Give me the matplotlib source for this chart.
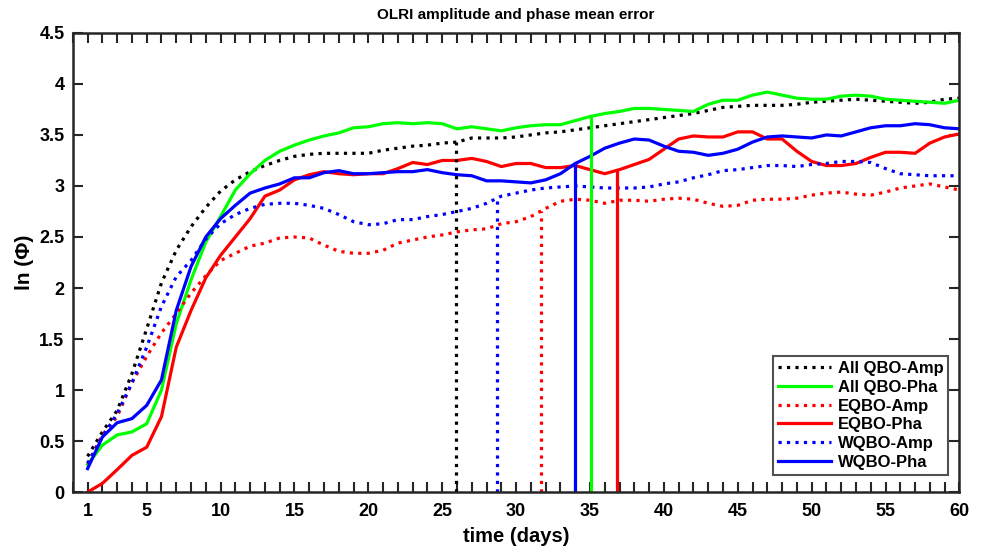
import numpy as np
import matplotlib
matplotlib.use("Agg")
import matplotlib.pyplot as plt
from matplotlib.ticker import MultipleLocator

plt.rcParams["font.family"] = ["Liberation Sans", "DejaVu Sans"]
plt.rcParams["font.weight"] = "bold"

# ---------- data ----------
days = np.arange(1, 61)

all_amp = [0.35, 0.59, 0.80, 1.16, 1.60, 2.05, 2.37, 2.60, 2.79, 2.95,
           3.06, 3.14, 3.20, 3.25, 3.29, 3.31, 3.32, 3.32, 3.32, 3.32,
           3.35, 3.37, 3.39, 3.40, 3.42, 3.43, 3.47, 3.47, 3.47, 3.48,
           3.50, 3.52, 3.53, 3.55, 3.57, 3.59, 3.61, 3.63, 3.65, 3.67,
           3.69, 3.71, 3.74, 3.77, 3.78, 3.79, 3.79, 3.79, 3.80, 3.82,
           3.83, 3.84, 3.85, 3.84, 3.83, 3.82, 3.81, 3.82, 3.85, 3.86]

all_pha = [0.27, 0.46, 0.56, 0.59, 0.67, 1.00, 1.65, 2.08, 2.45, 2.70,
           2.96, 3.12, 3.25, 3.34, 3.40, 3.45, 3.49, 3.52, 3.57, 3.58,
           3.61, 3.62, 3.61, 3.62, 3.61, 3.56, 3.58, 3.56, 3.54, 3.57,
           3.59, 3.60, 3.60, 3.64, 3.68, 3.71, 3.73, 3.76, 3.76, 3.75,
           3.74, 3.73, 3.80, 3.84, 3.84, 3.89, 3.92, 3.89, 3.86, 3.85,
           3.85, 3.88, 3.89, 3.88, 3.85, 3.84, 3.83, 3.82, 3.81, 3.84]

e_amp = [0.28, 0.56, 0.74, 1.07, 1.33, 1.56, 1.75, 1.95, 2.12, 2.27,
         2.34, 2.41, 2.44, 2.49, 2.50, 2.49, 2.42, 2.36, 2.34, 2.34,
         2.37, 2.44, 2.47, 2.50, 2.52, 2.55, 2.57, 2.58, 2.63, 2.65,
         2.70, 2.78, 2.85, 2.87, 2.86, 2.83, 2.86, 2.86, 2.85, 2.87,
         2.88, 2.87, 2.83, 2.80, 2.81, 2.86, 2.87, 2.87, 2.88, 2.91,
         2.93, 2.94, 2.92, 2.91, 2.94, 2.98, 3.00, 3.02, 2.99, 2.96]

e_pha = [0.00, 0.085, 0.22, 0.36, 0.44, 0.74, 1.42, 1.78, 2.10, 2.32,
         2.50, 2.68, 2.90, 2.96, 3.06, 3.11, 3.14, 3.12, 3.11, 3.12,
         3.12, 3.17, 3.23, 3.21, 3.25, 3.25, 3.27, 3.24, 3.19, 3.22,
         3.22, 3.18, 3.18, 3.20, 3.16, 3.12, 3.16, 3.21, 3.26, 3.36,
         3.46, 3.49, 3.48, 3.48, 3.53, 3.53, 3.46, 3.46, 3.34, 3.24,
         3.20, 3.20, 3.22, 3.28, 3.33, 3.33, 3.32, 3.42, 3.48, 3.51]

w_amp = [0.28, 0.54, 0.77, 1.07, 1.42, 1.82, 2.11, 2.27, 2.48, 2.63,
         2.72, 2.78, 2.82, 2.83, 2.83, 2.81, 2.78, 2.72, 2.65, 2.62,
         2.63, 2.67, 2.67, 2.70, 2.72, 2.75, 2.78, 2.83, 2.90, 2.93,
         2.96, 2.98, 2.99, 3.00, 2.99, 2.98, 2.98, 2.98, 2.99, 3.02,
         3.04, 3.08, 3.11, 3.15, 3.16, 3.18, 3.20, 3.20, 3.19, 3.21,
         3.22, 3.24, 3.24, 3.23, 3.17, 3.12, 3.11, 3.10, 3.10, 3.10]

w_pha = [0.23, 0.54, 0.68, 0.72, 0.85, 1.10, 1.78, 2.21, 2.50, 2.68,
         2.81, 2.93, 2.98, 3.02, 3.08, 3.08, 3.13, 3.15, 3.12, 3.12,
         3.13, 3.14, 3.14, 3.16, 3.13, 3.11, 3.10, 3.05, 3.05, 3.04,
         3.03, 3.06, 3.12, 3.22, 3.29, 3.37, 3.42, 3.46, 3.45, 3.39,
         3.34, 3.33, 3.30, 3.32, 3.36, 3.43, 3.48, 3.49, 3.48, 3.47,
         3.50, 3.49, 3.53, 3.57, 3.59, 3.59, 3.61, 3.60, 3.57, 3.56]

labels = ["All QBO-Amp", "All QBO-Pha", "EQBO-Amp", "EQBO-Pha",
          "WQBO-Amp", "WQBO-Pha"]
series = [all_amp, all_pha, e_amp, e_pha, w_amp, w_pha]
colors = ["black", "#00ff00", "red", "red", "blue", "blue"]
styles = [":", "-", ":", "-", ":", "-"]

# day where each curve crosses its threshold (vertical markers)
cross_days = [25.9, 35.1, 31.7, 36.8, 28.7, 34.0]

xtick_vals = [1, 5, 10, 15, 20, 25, 30, 35, 40, 45, 50, 55, 60]
ytick_vals = [0, 0.5, 1, 1.5, 2, 2.5, 3, 3.5, 4, 4.5]
ytick_text = ["0", "0.5", "1", "1.5", "2", "2.5", "3", "3.5", "4", "4.5"]

# ---------- plot ----------
fig = plt.figure(figsize=(9.84, 5.48), dpi=100)
ax = fig.add_axes([0.074, 0.102, 0.901, 0.838])

for y, lab, c, ls in zip(series, labels, colors, styles):
    ax.plot(days, y, color=c, linestyle=ls, linewidth=2.3, label=lab)

for y, c, ls, xd in zip(series, colors, styles, cross_days):
    top = np.interp(xd, days, y)
    ax.plot([xd, xd], [0, top], color=c, linestyle=ls, linewidth=2.3)

ax.set_xlim(0, 60)
ax.set_ylim(0, 4.5)
ax.set_xticks(xtick_vals)
ax.xaxis.set_minor_locator(MultipleLocator(1))
ax.set_yticks(ytick_vals)
ax.set_yticklabels(ytick_text)

ax.tick_params(which="both", direction="in", top=True, right=True,
               width=1.5, color="#262626", labelsize=13, length=7)
ax.tick_params(axis="x", which="both", pad=8)
ax.tick_params(axis="y", which="both", pad=6)
for s in ax.spines.values():
    s.set_linewidth(1.8)
    s.set_color("#262626")

ax.set_title("OLRI amplitude and phase mean error", fontsize=11,
             fontweight="bold", pad=10)
ax.set_xlabel("time (days)", fontsize=14.5, fontweight="bold", labelpad=5)
ax.set_ylabel("ln (\u03a6)", fontsize=15, fontweight="bold", labelpad=4)

leg = ax.legend(loc="lower right", fontsize=12, handlelength=3.2,
                frameon=True, fancybox=False, borderpad=0.3,
                labelspacing=0.22, handletextpad=0.4,
                bbox_to_anchor=(0.997, 0.02))
leg.get_frame().set_edgecolor("#262626")
leg.get_frame().set_linewidth(1.5)

fig.savefig("out.png", dpi=100)
